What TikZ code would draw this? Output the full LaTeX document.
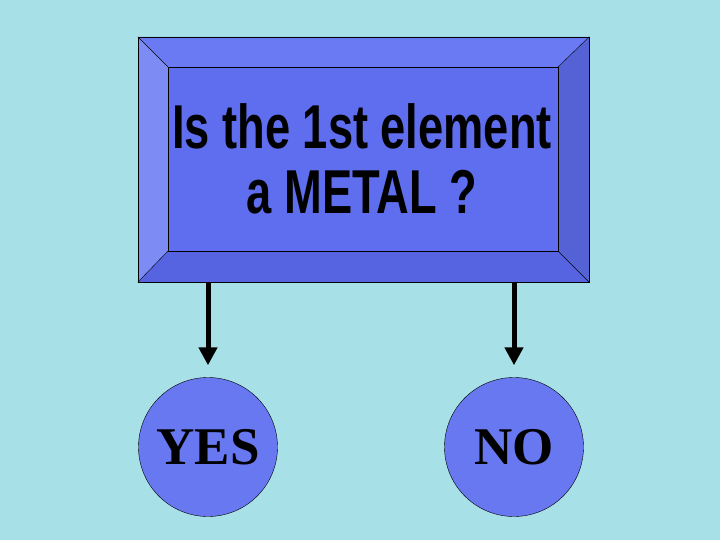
\documentclass[tikz,border=0pt]{standalone}
\usepackage{fontspec}
\usepackage{graphicx}
\usetikzlibrary{arrows.meta}
\newfontfamily\headfont{Liberation Sans}
\newfontfamily\answerfont{Liberation Serif}
\definecolor{water}{RGB}{168,224,232}
\definecolor{faceblue}{RGB}{94,110,238}
\definecolor{leftblue}{RGB}{125,140,245}
\definecolor{topblue}{RGB}{106,122,242}
\definecolor{rightblue}{RGB}{84,98,214}
\definecolor{bottomblue}{RGB}{86,100,226}
\definecolor{ballblue}{RGB}{104,120,240}
\newcommand{\narrowtext}[1]{\scalebox{0.73}[1]{#1}}
\tikzset{
  answer/.style={circle, draw, thin, fill=ballblue, minimum size=139pt, inner sep=0pt,
    font=\answerfont\bfseries\fontsize{53}{60}\selectfont},
  arr/.style={line width=5pt, -{Triangle[width=18pt,length=18pt]}}
}

\begin{document}
\begin{tikzpicture}[x=1pt, y=-1pt]
        \useasboundingbox (0,0) rectangle (720,540);
        \fill[water] (0,0) rectangle (720,540);

        % Bevel box
        \fill[leftblue] (138,37) -- (168,67) -- (168,251) -- (138,282) -- cycle;
        \fill[topblue] (138,37) -- (589,37) -- (558,67) -- (168,67) -- cycle;
        \fill[rightblue] (589,37) -- (589,282) -- (558,251) -- (558,67) -- cycle;
        \fill[bottomblue] (138,282) -- (168,251) -- (558,251) -- (589,282) -- cycle;
        \node[draw, thin, fill=faceblue, minimum width=390pt, minimum height=184pt, inner sep=0pt] (face) at (363,159) {};
        \node[draw, thin, minimum width=451pt, minimum height=245pt, inner sep=0pt] (box) at (363.5,159.5) {};
        \draw[thin] (box.north west) -- (face.north west);
        \draw[thin] (box.north east) -- (face.north east);
        \draw[thin] (box.south west) -- (face.south west);
        \draw[thin] (box.south east) -- (face.south east);

        % Question
        \node[font=\headfont\bfseries\fontsize{62}{65}\selectfont, align=center] (question) at (362,159)
          {\narrowtext{Is the 1st element}\\\narrowtext{a METAL ?}};

        % Nodes
        \node[answer] (yes) at (208,447) {YES};
        \node[answer] (no) at (514,447) {NO};

        % Edges
        \draw[arr, shorten >=12pt] (box.south -| yes.north) -- (yes.north);
        \draw[arr, shorten >=12pt] (box.south -| no.north) -- (no.north);
    \end{tikzpicture}
\end{document}
